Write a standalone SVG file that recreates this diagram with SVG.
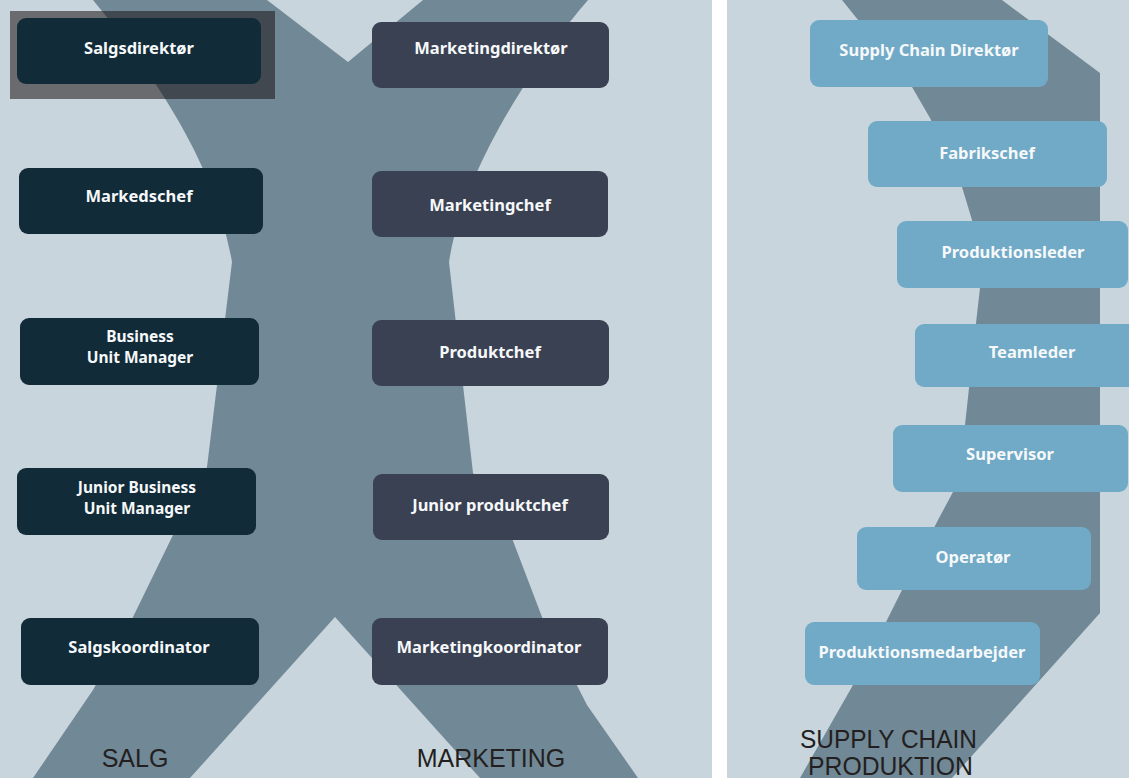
<svg xmlns="http://www.w3.org/2000/svg" width="1129" height="778" viewBox="0 0 1129 778">
<style>
.bg{fill:#c9d5dc}
.band{fill:#718896}
.salg{fill:#112b38}
.mkt{fill:#394152}
.sc{fill:#70aac7}
.t{font-family:"Noto Sans","DejaVu Sans",sans-serif;font-weight:bold;font-size:16.5px;fill:#f6f8f9;text-anchor:middle}
.t2{font-size:15.5px}
.lbl{font-family:"Liberation Sans",Arial,sans-serif;font-size:25px;fill:#231f20}
</style>
<rect x="0" y="0" width="1129" height="778" fill="#ffffff"/>
<rect class="bg" x="0" y="0" width="712" height="778"/>
<rect class="bg" x="727" y="0" width="402" height="778"/>
<g id="background-shapes">
<path class="band" d="M93,0 L267,0 L348,62 L423,0 L588,0 C545,50 465,160 449,262 L473,473 L505,520 L542,617 L587,705 L638,778 L480,778 L335,617 L190,778 L33,778 L93,690 L133,617 L173,535 L207,467 L232,262 C215,160 150,70 93,0 Z"/>
<path class="band" d="M842,0 L912,87 L930,118 L962,187 L972,220 L980,288 L976,323 L965,425 L953,492 L938,520 L902,590 L887,620 L853,685 L800,778 L952,778 L1100,613 L1100,73 L1002,0 Z"/>
</g>
<rect id="highlight" x="10" y="11" width="265" height="88" fill="#1a1416" fill-opacity="0.55"/>
<g id="connectors"></g>
<g id="n-salgsdirektor"><rect class="salg" x="17" y="18" width="244" height="66" rx="9"/><text class="t" x="139" y="54">Salgsdirektør</text></g>
<g id="n-markedschef"><rect class="salg" x="19" y="168" width="244" height="66" rx="9"/><text class="t" x="139" y="202">Markedschef</text></g>
<g id="n-bum"><rect class="salg" x="20" y="318" width="239" height="67" rx="9"/><text class="t t2" x="140" y="342">Business</text><text class="t t2" x="140" y="363">Unit Manager</text></g>
<g id="n-jbum"><rect class="salg" x="17" y="468" width="239" height="67" rx="9"/><text class="t t2" x="137" y="493">Junior Business</text><text class="t t2" x="137" y="514">Unit Manager</text></g>
<g id="n-salgskoordinator"><rect class="salg" x="21" y="618" width="238" height="67" rx="9"/><text class="t" x="139" y="653">Salgskoordinator</text></g>
<g id="n-marketingdirektor"><rect class="mkt" x="372" y="22" width="237" height="66" rx="9"/><text class="t" x="491" y="54">Marketingdirektør</text></g>
<g id="n-marketingchef"><rect class="mkt" x="372" y="171" width="236" height="66" rx="9"/><text class="t" x="490" y="211">Marketingchef</text></g>
<g id="n-produktchef"><rect class="mkt" x="372" y="320" width="237" height="66" rx="9"/><text class="t" x="490" y="358">Produktchef</text></g>
<g id="n-junior-produktchef"><rect class="mkt" x="373" y="474" width="236" height="66" rx="9"/><text class="t" x="490" y="511">Junior produktchef</text></g>
<g id="n-marketingkoordinator"><rect class="mkt" x="372" y="618" width="236" height="67" rx="9"/><text class="t" x="489" y="653">Marketingkoordinator</text></g>
<g id="n-sc-direktor"><rect class="sc" x="810" y="20" width="238" height="67" rx="9"/><text class="t" x="929" y="56">Supply Chain Direktør</text></g>
<g id="n-fabrikschef"><rect class="sc" x="868" y="121" width="239" height="66" rx="9"/><text class="t" x="987" y="159">Fabrikschef</text></g>
<g id="n-produktionsleder"><rect class="sc" x="897" y="221" width="231" height="67" rx="9"/><text class="t" x="1013" y="258">Produktionsleder</text></g>
<g id="n-teamleder"><rect class="sc" x="915" y="324" width="235" height="63" rx="9"/><text class="t" x="1032" y="358">Teamleder</text></g>
<g id="n-supervisor"><rect class="sc" x="893" y="425" width="235" height="67" rx="9"/><text class="t" x="1010" y="460">Supervisor</text></g>
<g id="n-operator"><rect class="sc" x="857" y="527" width="234" height="63" rx="9"/><text class="t" x="973" y="563">Operatør</text></g>
<g id="n-produktionsmedarbejder"><rect class="sc" x="805" y="622" width="235" height="63" rx="9"/><text class="t" x="922" y="658">Produktionsmedarbejder</text></g>
<g id="labels">
<text class="lbl" x="135" y="767" text-anchor="middle">SALG</text>
<text class="lbl" x="491" y="767" text-anchor="middle">MARKETING</text>
<text class="lbl" x="800" y="748" font-size="26" textLength="177" lengthAdjust="spacingAndGlyphs">SUPPLY CHAIN</text>
<text class="lbl" x="808" y="775" font-size="26" textLength="165" lengthAdjust="spacingAndGlyphs">PRODUKTION</text>
</g>
</svg>
